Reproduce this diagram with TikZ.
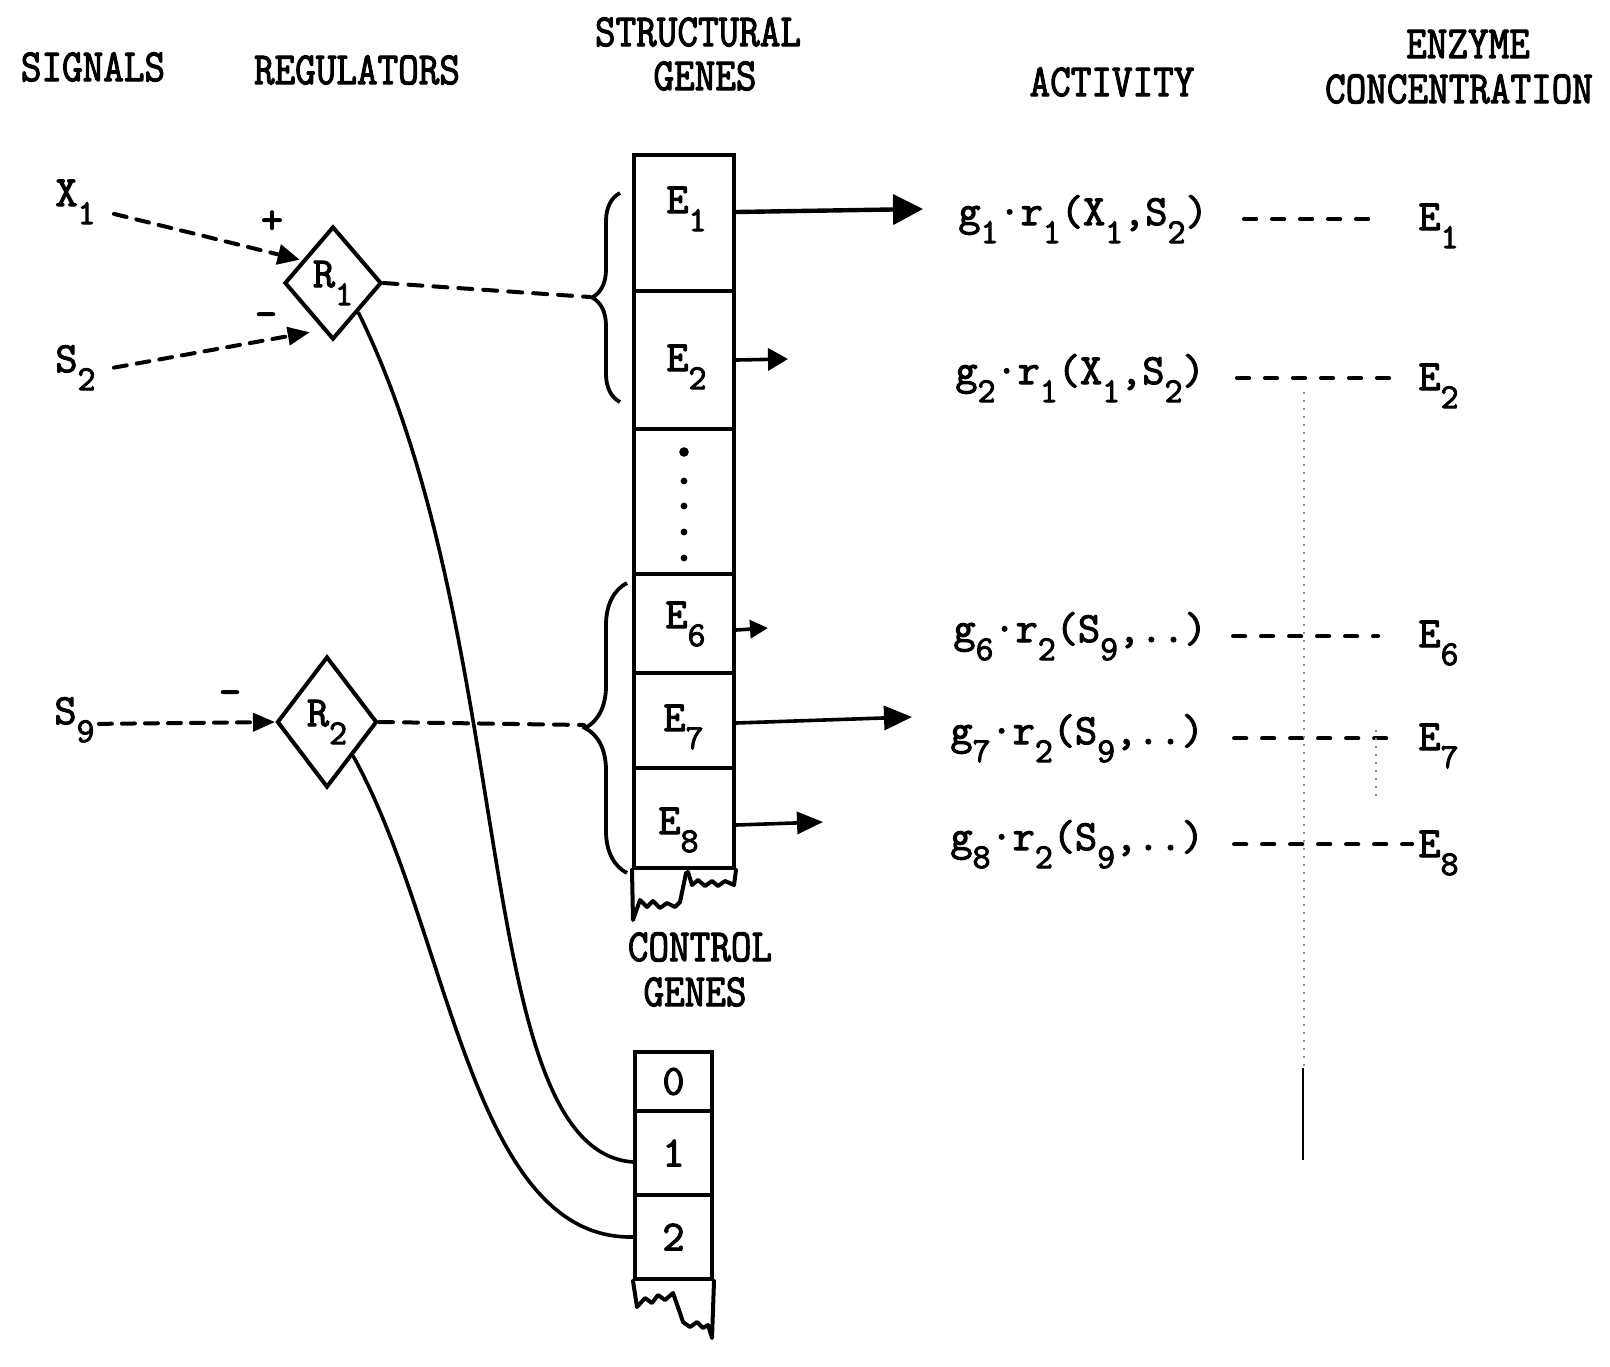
\documentclass[tikz,border=0pt]{standalone}
\usepackage{fontspec}
\newfontfamily\twb{Latin Modern Mono}[FakeBold=2.5]
\usetikzlibrary{shapes.geometric,arrows.meta,decorations.pathreplacing}
\newcommand\bodyfont{\twb\fontsize{21.5pt}{24pt}\selectfont}
\newcommand\hdrfont{\twb\fontsize{20pt}{22pt}\selectfont}
\newcommand\lsub[1]{\raisebox{-0.42em}{\fontsize{17.5pt}{18pt}\selectfont #1}}
\newcommand\hs[1]{\scalebox{1}[1.15]{#1}}
\tikzset{
  cell/.style={draw, line width=2pt, rectangle, minimum width=50pt, inner sep=0pt},
  gcell/.style={draw, line width=2pt, rectangle, minimum width=38.5pt, inner sep=0pt, font=\bodyfont},
  reg/.style={draw, diamond, line width=2pt, inner sep=0pt, font=\bodyfont},
  hdr/.style={font=\hdrfont, inner sep=0pt},
  lab/.style={font=\bodyfont, inner sep=0pt, anchor=base west},
  sig/.style={line width=2pt, dash pattern=on 6.5pt off 5pt, line cap=round},
  dashlink/.style={line width=2pt, dash pattern=on 7pt off 5.5pt, line cap=round},
  actlink/.style={line width=2.1pt, dash pattern=on 6pt off 8pt, line cap=round},
  outarrow/.style={line width=1.8pt},
  curvelink/.style={line width=1.8pt},
  torn/.style={line width=2pt, line join=round, line cap=round},
  bracestyle/.style={line width=1.9pt, decorate},
  faint/.style={black!45, line width=0.8pt, dash pattern=on 1pt off 3pt},
}
\begin{document}
\begin{tikzpicture}[x=0.5pt, y=-0.5pt]
\fill[white] (0,0) rectangle (1610,1366);
\useasboundingbox (0,0) rectangle (1610,1366);

% headers
\node[hdr] (hsig) at (93,67) {\hs{SIGNALS}};
\node[hdr] (hreg) at (357,70) {\hs{REGULATORS}};
\node[hdr] (hstr1) at (698,32) {\hs{STRUCTURAL}};
\node[hdr] (hstr2) at (705,76) {\hs{GENES}};
\node[hdr] (hact) at (1112,82) {\hs{ACTIVITY}};
\node[hdr] (henz1) at (1468,44) {\hs{ENZYME}};
\node[hdr] (henz2) at (1459,89) {\hs{CONCENTRATION}};
\node[hdr] (hcon1) at (700,947) {\hs{CONTROL}};
\node[hdr] (hcon2) at (695,992) {\hs{GENES}};

% signals
\node[lab] (X1) at (55,206) {X\lsub{1}};
\node[lab] (S2) at (55,372) {S\lsub{2}};
\node[lab] (S9) at (54,724) {S\lsub{9}};
\node[font=\bodyfont, inner sep=0pt] (plus) at (272,222) {+};
\node[font=\bodyfont, inner sep=0pt] (minA) at (266,320) {-};
\node[font=\bodyfont, inner sep=0pt] (minB) at (230,698) {-};

% regulators
\node[reg, minimum width=48.5pt, minimum height=56.5pt] (R1) at (333,283) {R\lsub{1}};
\node[reg, minimum width=50pt, minimum height=65.5pt] (R2) at (327,722) {R\lsub{2}};

% structural genes column
\node[cell, minimum height=68pt] (cE1) at (684,223) {};
\node[cell, minimum height=69pt] (cE2) at (684,360) {};
\node[cell, minimum height=72.5pt] (cdots) at (684,501.5) {};
\node[cell, minimum height=49.5pt] (cE6) at (684,623.5) {};
\node[cell, minimum height=47.5pt] (cE7) at (684,720.5) {};
\node[cell, minimum height=50pt] (cE8) at (684,818) {};
\node[lab] (lE1) at (666,213) {E\lsub{1}};
\node[lab] (lE2) at (666,371) {E\lsub{2}};
\node[lab] (lE6) at (665,628) {E\lsub{6}};
\node[lab] (lE7) at (663,731) {E\lsub{7}};
\node[lab] (lE8) at (658,834) {E\lsub{8}};
\fill (684,452) circle (2.4pt);
\foreach \yy in {481,506,532,558} \fill (684,\yy) circle (1.7pt);

% torn bottom of structural column
\draw[torn] (cE8.south west) -- (633,920) -- (640,900) -- (647,907) -- (653,901) -- (660,908)
  -- (667,903) -- (675,907) -- (680,902) -- (686,873);
\draw[torn] (cE8.south east) -- (734,885) -- (725,881) -- (718,886) -- (712,881) -- (705,886)
  -- (698,880) -- (692,885) -- (688,872);

% control genes column
\node[gcell, minimum height=29.5pt] (cg0) at (673.5,1081.5) {0};
\node[gcell, minimum height=42pt] (cg1) at (673.5,1153) {1};
\node[gcell, minimum height=42pt] (cg2) at (673.5,1237) {2};
\draw[torn] (cg2.south west) -- (637,1307) -- (645,1298) -- (652,1303) -- (658,1295) -- (665,1300)
  -- (673,1293) -- (680,1313) -- (683,1322) -- (690,1327) -- (697,1322) -- (703,1328)
  -- (708,1325) -- (712,1338) -- (cg2.south east);

% braces
\draw[bracestyle, decoration={brace, amplitude=14pt}] (620,402) -- (620,193);
\draw[bracestyle, decoration={brace, amplitude=21pt}] (627,873) -- (627,583);
\coordinate (b1) at (590,297);
\coordinate (b2) at (584,725);

% signal arrows
\draw[sig, -{Triangle[length=11pt,width=10pt]}] ([xshift=9pt,yshift=-6pt]X1.east) -- ([shift={(-4pt,-3pt)}]R1.north west);
\draw[sig, -{Triangle[length=11pt,width=9pt]}] ([xshift=9pt,yshift=0pt]S2.east) -- ([shift={(1pt,-10pt)}]R1.south west);
\draw[sig, -{Triangle[length=11pt,width=9pt]}] ([xshift=2pt,yshift=-2pt]S9.east) -- (R2.west);

% regulator to structural genes
\draw[dashlink] (R1.east) -- (b1);
\draw[dashlink] (R2.east) -- (b2);

% regulator to control genes
\draw[curvelink] (R1.south east) .. controls (520,640) and (470,1150) .. ([yshift=-4.5pt]cg1.west);
\draw[curvelink] (R2.south east) .. controls (450,930) and (470,1240) .. (cg2.west);

% output arrows
\coordinate (t1) at (923,209);
\coordinate (t2) at (788,359);
\coordinate (t6) at (768,628);
\coordinate (t7) at (912,717);
\coordinate (t8) at (823,822);
\draw[outarrow, line width=2.2pt, -{Triangle[length=15pt,width=15pt]}] ([yshift=5.5pt]cE1.east) -- (t1);
\draw[outarrow, -{Triangle[length=10pt,width=11pt]}] (cE2.east) -- (t2);
\draw[outarrow, -{Triangle[length=9pt,width=9pt]}] ([yshift=-3.25pt]cE6.east) -- (t6);
\draw[outarrow, -{Triangle[length=14pt,width=12pt]}] ([yshift=-1.25pt]cE7.east) -- (t7);
\draw[outarrow, -{Triangle[length=13pt,width=11pt]}] ([yshift=-3.5pt]cE8.east) -- (t8);

% activity
\node[lab] (a1) at (958,225) {g\lsub{1}·r\lsub{1}(X\lsub{1},S\lsub{2})};
\node[lab] (a2) at (955,384) {g\lsub{2}·r\lsub{1}(X\lsub{1},S\lsub{2})};
\node[lab] (a6) at (953,642) {g\lsub{6}·r\lsub{2}(S\lsub{9},..)};
\node[lab] (a7) at (950,744) {g\lsub{7}·r\lsub{2}(S\lsub{9},..)};
\node[lab] (a8) at (950,850) {g\lsub{8}·r\lsub{2}(S\lsub{9},..)};

% enzyme concentration
\node[lab] (e1) at (1418,230) {E\lsub{1}};
\node[lab] (e2) at (1418,390) {E\lsub{2}};
\node[lab] (e6) at (1418,647) {E\lsub{6}};
\node[lab] (e7) at (1418,750) {E\lsub{7}};
\node[lab] (e8) at (1418,857) {E\lsub{8}};

\draw[actlink, shorten <=18pt, shorten >=22pt] (a1.east) -- (a1.east -| e1.west);
\draw[actlink, shorten <=16pt, shorten >=10pt] (a2.east) -- (a2.east -| e2.west);
\draw[actlink, shorten <=13pt, shorten >=20pt] (a6.east) -- (a6.east -| e6.west);
\draw[actlink, shorten <=15pt, shorten >=8pt] (a7.east) -- (a7.east -| e7.west);
\draw[actlink, shorten <=15pt, shorten >=3pt] (a8.east) -- (a8.east -| e8.west);

% faint ruling marks
\draw[faint] (1304,392) -- (1304,1068);
\draw[line width=1.3pt] (1303,1068) -- (1303,1160);
\draw[faint] (1376,730) -- (1376,796);
\end{tikzpicture}
\end{document}
